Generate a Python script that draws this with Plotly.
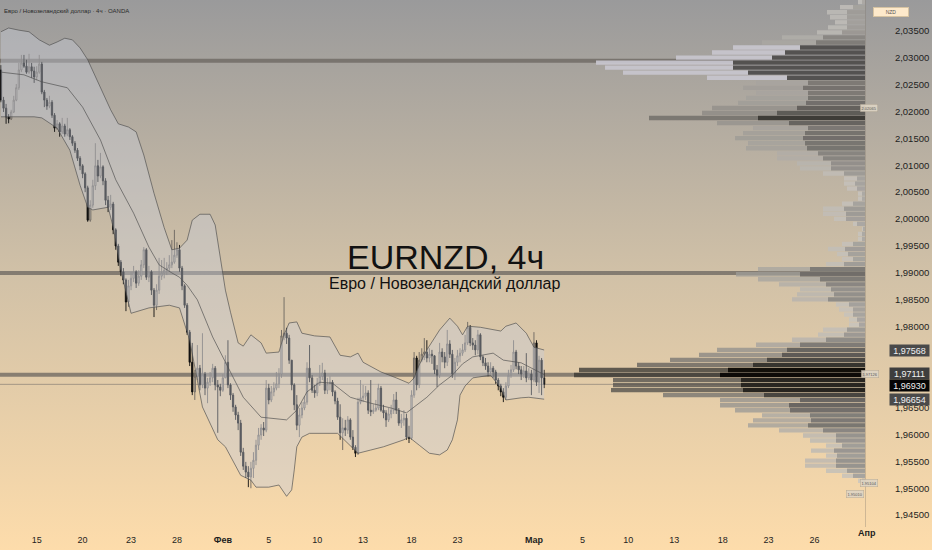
"""EURNZD 4h chart: candles, Bollinger bands and a visible-range volume profile."""

import base64

import plotly.graph_objects as go

# ---- price data (4h bars, index = bar number) ----
first_open = 2.0277
closes = [
    2.0221, 2.0206, 2.0190, 2.0186, 2.0199, 2.0221, 2.0244, 2.0277, 2.0290, 2.0284,
    2.0273, 2.0283, 2.0275, 2.0264, 2.0273, 2.0288, 2.0236, 2.0221, 2.0210, 2.0217,
    2.0193, 2.0169, 2.0177, 2.0162, 2.0173, 2.0158, 2.0166, 2.0153, 2.0141, 2.0128,
    2.0113, 2.0099, 2.0084, 2.0058, 1.9998, 2.0026, 2.0062, 2.0099, 2.0080, 2.0097,
    2.0071, 2.0035, 2.0022, 2.0028, 1.9980, 1.9950, 1.9920, 1.9902, 1.9887, 1.9846,
    1.9876, 1.9890, 1.9902, 1.9881, 1.9894, 1.9915, 1.9943, 1.9892, 1.9902, 1.9868,
    1.9840, 1.9868, 1.9894, 1.9900, 1.9905, 1.9909, 1.9915, 1.9920, 1.9933, 1.9943,
    1.9909, 1.9876, 1.9840, 1.9790, 1.9734, 1.9679, 1.9708, 1.9723, 1.9692, 1.9712,
    1.9686, 1.9697, 1.9705, 1.9723, 1.9692, 1.9688, 1.9682, 1.9705, 1.9734, 1.9692,
    1.9673, 1.9651, 1.9636, 1.9621, 1.9567, 1.9541, 1.9530, 1.9521, 1.9537, 1.9552,
    1.9580, 1.9599, 1.9612, 1.9608, 1.9686, 1.9664, 1.9679, 1.9686, 1.9694, 1.9712,
    1.9783, 1.9788, 1.9779, 1.9738, 1.9692, 1.9655, 1.9617, 1.9636, 1.9649, 1.9660,
    1.9723, 1.9705, 1.9682, 1.9677, 1.9695, 1.9708, 1.9714, 1.9682, 1.9694, 1.9697,
    1.9679, 1.9662, 1.9632, 1.9603, 1.9612, 1.9608, 1.9627, 1.9595, 1.9576, 1.9565,
    1.9660, 1.9668, 1.9671, 1.9677, 1.9645, 1.9642, 1.9645, 1.9649, 1.9686, 1.9645,
    1.9640, 1.9627, 1.9638, 1.9645, 1.9664, 1.9645, 1.9621, 1.9627, 1.9630, 1.9595,
    1.9593, 1.9673, 1.9742, 1.9692, 1.9738, 1.9749, 1.9753, 1.9742, 1.9749, 1.9746,
    1.9720, 1.9710, 1.9753, 1.9744, 1.9734, 1.9768, 1.9749, 1.9712, 1.9734, 1.9746,
    1.9751, 1.9757, 1.9770, 1.9799, 1.9770, 1.9766, 1.9757, 1.9785, 1.9744, 1.9733,
    1.9727, 1.9716, 1.9723, 1.9716, 1.9701, 1.9690, 1.9679, 1.9669, 1.9690, 1.9710,
    1.9720, 1.9753, 1.9727, 1.9720, 1.9712, 1.9718, 1.9705, 1.9712, 1.9701, 1.9770,
    1.9697, 1.9738, 1.9705, 1.96930,
]
highs = [
    2.0286, 2.0227, 2.0214, 2.0195, 2.0203, 2.0229, 2.0251, 2.0290, 2.0305, 2.0305,
    2.0296, 2.0307, 2.0290, 2.0283, 2.0284, 2.0305, 2.0292, 2.0240, 2.0225, 2.0229,
    2.0221, 2.0197, 2.0184, 2.0180, 2.0188, 2.0177, 2.0188, 2.0169, 2.0156, 2.0145,
    2.0132, 2.0117, 2.0102, 2.0087, 2.0062, 2.0035, 2.0073, 2.0141, 2.0110, 2.0123,
    2.0100, 2.0076, 2.0043, 2.0045, 2.0032, 1.9983, 1.9954, 1.9924, 1.9909, 1.9890,
    1.9887, 1.9902, 1.9913, 1.9905, 1.9905, 1.9924, 1.9948, 1.9946, 1.9913, 1.9905,
    1.9872, 1.9879, 1.9928, 1.9924, 1.9928, 1.9920, 1.9933, 1.9961, 1.9980, 1.9957,
    1.9952, 1.9913, 1.9879, 1.9844, 1.9794, 1.9770, 1.9720, 1.9766, 1.9729, 1.9788,
    1.9716, 1.9705, 1.9716, 1.9731, 1.9727, 1.9701, 1.9694, 1.9712, 1.9747, 1.9775,
    1.9695, 1.9677, 1.9655, 1.9642, 1.9627, 1.9575, 1.9549, 1.9541, 1.9549, 1.9567,
    1.9590, 1.9612, 1.9619, 1.9623, 1.9701, 1.9694, 1.9690, 1.9697, 1.9716, 1.9723,
    1.9794, 1.9855, 1.9798, 1.9785, 1.9738, 1.9695, 1.9673, 1.9649, 1.9660, 1.9671,
    1.9734, 1.9766, 1.9710, 1.9692, 1.9705, 1.9729, 1.9733, 1.9720, 1.9705, 1.9708,
    1.9701, 1.9682, 1.9668, 1.9656, 1.9630, 1.9627, 1.9634, 1.9630, 1.9608, 1.9580,
    1.9668, 1.9701, 1.9692, 1.9690, 1.9682, 1.9701, 1.9656, 1.9664, 1.9694, 1.9690,
    1.9655, 1.9645, 1.9649, 1.9655, 1.9675, 1.9679, 1.9649, 1.9638, 1.9645, 1.9638,
    1.9616, 1.9682, 1.9753, 1.9746, 1.9753, 1.9760, 1.9779, 1.9775, 1.9760, 1.9757,
    1.9747, 1.9729, 1.9770, 1.9760, 1.9753, 1.9794, 1.9775, 1.9757, 1.9742, 1.9757,
    1.9760, 1.9768, 1.9785, 1.9809, 1.9803, 1.9779, 1.9775, 1.9794, 1.9788, 1.9747,
    1.9742, 1.9734, 1.9734, 1.9727, 1.9720, 1.9705, 1.9694, 1.9686, 1.9697, 1.9720,
    1.9729, 1.9775, 1.9757, 1.9734, 1.9727, 1.9727, 1.9751, 1.9723, 1.9720, 1.9790,
    1.9775, 1.9746, 1.9742, 1.9720,
]
lows = [
    2.0217, 2.0199, 2.0177, 2.0178, 2.0184, 2.0197, 2.0219, 2.0240, 2.0273, 2.0281,
    2.0270, 2.0270, 2.0262, 2.0253, 2.0258, 2.0270, 2.0232, 2.0208, 2.0203, 2.0206,
    2.0188, 2.0162, 2.0166, 2.0153, 2.0158, 2.0153, 2.0154, 2.0147, 2.0136, 2.0123,
    2.0108, 2.0091, 2.0076, 2.0050, 1.9995, 1.9995, 2.0021, 2.0054, 2.0069, 2.0076,
    2.0063, 2.0026, 2.0013, 2.0017, 1.9972, 1.9943, 1.9913, 1.9894, 1.9879, 1.9829,
    1.9837, 1.9868, 1.9883, 1.9872, 1.9876, 1.9887, 1.9909, 1.9887, 1.9883, 1.9859,
    1.9818, 1.9831, 1.9861, 1.9887, 1.9890, 1.9896, 1.9902, 1.9909, 1.9917, 1.9928,
    1.9902, 1.9868, 1.9835, 1.9785, 1.9727, 1.9673, 1.9664, 1.9701, 1.9682, 1.9686,
    1.9673, 1.9658, 1.9690, 1.9697, 1.9682, 1.9603, 1.9671, 1.9679, 1.9705, 1.9686,
    1.9664, 1.9642, 1.9627, 1.9608, 1.9560, 1.9534, 1.9519, 1.9502, 1.9500, 1.9519,
    1.9543, 1.9571, 1.9590, 1.9597, 1.9604, 1.9656, 1.9660, 1.9671, 1.9682, 1.9686,
    1.9705, 1.9775, 1.9768, 1.9731, 1.9682, 1.9645, 1.9608, 1.9595, 1.9630, 1.9645,
    1.9655, 1.9697, 1.9677, 1.9668, 1.9671, 1.9690, 1.9701, 1.9675, 1.9675, 1.9682,
    1.9671, 1.9656, 1.9627, 1.9590, 1.9571, 1.9597, 1.9601, 1.9590, 1.9571, 1.9558,
    1.9562, 1.9656, 1.9660, 1.9664, 1.9638, 1.9634, 1.9638, 1.9642, 1.9645, 1.9642,
    1.9630, 1.9614, 1.9623, 1.9630, 1.9638, 1.9638, 1.9616, 1.9612, 1.9616, 1.9590,
    1.9584, 1.9590, 1.9668, 1.9682, 1.9686, 1.9734, 1.9738, 1.9734, 1.9734, 1.9731,
    1.9712, 1.9688, 1.9705, 1.9734, 1.9723, 1.9727, 1.9742, 1.9705, 1.9701, 1.9727,
    1.9734, 1.9746, 1.9753, 1.9766, 1.9764, 1.9757, 1.9747, 1.9749, 1.9738, 1.9727,
    1.9720, 1.9708, 1.9712, 1.9705, 1.9694, 1.9682, 1.9671, 1.9660, 1.9664, 1.9686,
    1.9705, 1.9716, 1.9721, 1.9712, 1.9701, 1.9705, 1.9697, 1.9701, 1.9673, 1.9697,
    1.9690, 1.9677, 1.9673, 1.9686,
]

# ---- Bollinger bands at sample bars ----
bb_upper_idx = [0, 3, 7, 11, 15, 19, 22, 25, 28, 31, 34, 39, 43, 46, 50, 53, 56, 60, 64, 67,
                70, 73, 75, 78, 82, 84, 86, 88, 90, 93, 95, 98, 102, 104, 109, 111, 113, 116,
                118, 123, 129, 133, 137, 140, 142, 149, 155, 160, 162, 164, 167, 172, 176,
                179, 181, 183, 188, 196, 198, 202, 206, 209, 213]
bb_upper = [2.0348, 2.0355, 2.0351, 2.0348, 2.0333, 2.0323, 2.0329, 2.0336, 2.0333, 2.0318,
            2.0296, 2.0244, 2.0203, 2.0177, 2.0171, 2.0162, 2.0119, 2.0048, 1.9984, 1.9943,
            1.9946, 1.9961, 1.9998, 2.0009, 2.0009, 1.9989, 1.9924, 1.9868, 1.9827, 1.9770,
            1.9764, 1.9785, 1.9770, 1.9751, 1.9753, 1.9785, 1.9807, 1.9809, 1.9788, 1.9783,
            1.9781, 1.9747, 1.9744, 1.9751, 1.9734, 1.9716, 1.9705, 1.9695, 1.9705, 1.9729,
            1.9757, 1.9794, 1.9816, 1.9801, 1.9785, 1.9801, 1.9799, 1.9792, 1.9801, 1.9807,
            1.9788, 1.9762, 1.97568]
bb_mid_idx = [0, 9, 16, 26, 32, 39, 45, 52, 58, 62, 67, 70, 73, 77, 83, 90, 95, 102, 112,
              116, 120, 125, 130, 137, 145, 153, 159, 167, 172, 177, 181, 185, 193, 197,
              204, 213]
bb_mid = [2.0273, 2.0268, 2.0255, 2.0244, 2.0208, 2.0147, 2.0073, 2.0011, 1.9948, 1.9915,
          1.9900, 1.9892, 1.9877, 1.9850, 1.9781, 1.9714, 1.9669, 1.9632, 1.9627, 1.9645,
          1.9679, 1.9697, 1.9695, 1.9669, 1.9658, 1.9649, 1.9640, 1.9669, 1.9692, 1.9710,
          1.9731, 1.9744, 1.9751, 1.9738, 1.9733, 1.97111]
bb_low_idx = [0, 13, 16, 22, 27, 31, 34, 36, 42, 44, 47, 51, 58, 66, 70, 74, 79, 85, 88, 94,
              98, 100, 105, 109, 112, 114, 115, 116, 118, 121, 132, 137, 140, 145, 150, 158,
              160, 164, 168, 172, 175, 177, 179, 180, 182, 185, 192, 196, 198, 204, 207, 213]
bb_lower = [2.0190, 2.0190, 2.0188, 2.0169, 2.0128, 2.0063, 2.0022, 2.0017, 2.0022, 1.9985,
            1.9905, 1.9825, 1.9835, 1.9840, 1.9835, 1.9775, 1.9651, 1.9590, 1.9577, 1.9524,
            1.9515, 1.9502, 1.9502, 1.9506, 1.9485, 1.9497, 1.9534, 1.9577, 1.9595, 1.9602,
            1.9602, 1.9580, 1.9565, 1.9571, 1.9577, 1.9590, 1.9595, 1.9580, 1.9565, 1.9562,
            1.9571, 1.9590, 1.9627, 1.9673, 1.9690, 1.9705, 1.9710, 1.9686, 1.9664, 1.9668,
            1.9669, 1.96654]

# ---- volume profile (relative volume per price row, top row first) ----
vp_top = 2.0403
vp_step = 0.000936
vp_total = [
    7, 25, 38, 35, 30, 37, 48, 83, 103, 132,
    153, 189, 269, 260, 242, 158, 109, 122, 109, 119,
    127, 153, 163, 216, 148, 112, 122, 130, 117, 119,
    88, 88, 68, 65, 42, 21, 21, 18, 7, 7,
    23, 42, 42, 31, 12, 3, 7, 7, 23, 37,
    28, 23, 39, 107, 129, 107, 86, 65, 68, 73,
    29, 26, 21, 16, 16, 42, 47, 73, 109, 148,
    166, 195, 228, 286, 291, 252, 252, 254, 202, 145,
    145, 130, 103, 112, 117, 86, 62, 55, 39, 54,
    39, 60, 60, 39, 23, 7,
]
vp_inner = [
    3, 12, 18, 18, 18, 18, 23, 42, 49, 65,
    80, 93, 132, 132, 117, 78, 57, 62, 57, 57,
    59, 68, 88, 107, 76, 57, 60, 62, 60, 58,
    47, 42, 34, 34, 21, 8, 10, 8, 3, 3,
    12, 21, 19, 19, 8, 2, 3, 3, 12, 20,
    17, 12, 21, 55, 65, 45, 39, 34, 31, 37,
    16, 12, 12, 8, 6, 18, 21, 39, 65, 78,
    83, 98, 112, 137, 145, 124, 124, 122, 101, 65,
    76, 75, 55, 54, 57, 42, 29, 29, 23, 31,
    28, 29, 29, 18, 12, 3,
]

level_prices = [2.0294, 1.9900, 1.9711]
# 1,97500 and 1,97000 sit under the price boxes on the original, so they are left out
y_ticks = [1.945, 1.950, 1.955, 1.960, 1.965, 1.980, 1.985, 1.990,
           1.995, 2.000, 2.005, 2.010, 2.015, 2.020, 2.025, 2.030, 2.035]
x_tick_bars = [14, 32, 51, 69, 87, 105, 124, 142, 161, 179, 209, 228, 246, 264, 283, 301, 319]
x_tick_text = ["15", "20", "23", "28", "<b>Фев</b>", "5", "10", "13", "18", "23",
               "<b>Мар</b>", "5", "10", "13", "18", "23", "26"]

FONT = "Liberation Sans, Arial, sans-serif"
W, H = 932, 550
PLOT_W, PLOT_H = 865, 527

opens = [first_open] + closes[:-1]
bars = list(range(len(closes)))
vp_prices = [vp_top - k * vp_step for k in range(len(vp_total))]

# background gradient as an inline svg image
svg = (
    "<svg xmlns='http://www.w3.org/2000/svg' width='10' height='100' "
    "viewBox='0 0 10 100' preserveAspectRatio='none'>"
    "<defs><linearGradient id='g' x1='0' y1='0' x2='0' y2='1'>"
    "<stop offset='0' stop-color='#9a9a9b'/>"
    "<stop offset='0.5' stop-color='#d1c1a7'/>"
    "<stop offset='1' stop-color='#fddcab'/>"
    "</linearGradient></defs>"
    "<rect width='10' height='100' fill='url(#g)'/></svg>"
)
bg_src = "data:image/svg+xml;base64," + base64.b64encode(svg.encode()).decode()

fig = go.Figure()

# band fill
fig.add_trace(go.Scatter(
    x=bb_upper_idx + bb_low_idx[::-1], y=bb_upper + bb_lower[::-1],
    mode="lines", fill="toself", fillcolor="rgba(200,205,218,0.4)",
    line=dict(width=0), hoverinfo="skip",
))
for bx, by in [(bb_upper_idx, bb_upper), (bb_mid_idx, bb_mid), (bb_low_idx, bb_lower)]:
    fig.add_trace(go.Scatter(
        x=bx, y=by, mode="lines",
        line=dict(color="rgba(80,80,80,0.85)", width=0.8), hoverinfo="skip",
    ))

fig.add_trace(go.Candlestick(
    x=bars, open=opens, high=highs, low=lows, close=closes,
    increasing=dict(line=dict(color="#6b6560", width=0.9), fillcolor="rgba(210,205,200,0.55)"),
    decreasing=dict(line=dict(color="#0d0d0d", width=0.9), fillcolor="#0d0d0d"),
    whiskerwidth=0, hoverinfo="skip",
))

# volume profile colours: darker for heavier rows, pale outer part for the top cluster
vmax = max(vp_total)
outer_cols, inner_cols = [], []
for p, tot in zip(vp_prices, vp_total):
    t = tot / vmax
    if p > 2.0255 and t > 0.4:
        outer_cols.append("rgba(200,198,206,0.92)")
        inner_cols.append("rgba(78,76,74,0.95)")
        continue
    g_out = int(200 - 140 * t ** 1.5)
    g_in = int(max(170 - 165 * t ** 1.2, 5))
    outer_cols.append(f"rgba({g_out},{g_out - 3},{g_out - 8},0.8)")
    inner_cols.append(f"rgba({g_in},{max(g_in - 3, 0)},{max(g_in - 7, 0)},0.88)")

fig.add_trace(go.Bar(
    y=vp_prices, x=vp_total, orientation="h", xaxis="x2", yaxis="y",
    width=vp_step * 0.86, marker=dict(color=outer_cols, line=dict(width=0)),
    hoverinfo="skip",
))
fig.add_trace(go.Bar(
    y=vp_prices, x=vp_inner, orientation="h", xaxis="x2", yaxis="y",
    width=vp_step * 0.86, marker=dict(color=inner_cols, line=dict(width=0)),
    hoverinfo="skip",
))

shapes = []
for lv in level_prices:
    shapes.append(dict(type="line", xref="paper", x0=0, x1=1, yref="y", y0=lv, y1=lv,
                       line=dict(color="rgba(105,100,95,0.75)", width=4), layer="below"))
shapes.append(dict(type="line", xref="paper", x0=0, x1=1, yref="y",
                   y0=closes[-1], y1=closes[-1],
                   line=dict(color="rgba(120,115,110,0.6)", width=1), layer="below"))


def price_text(v):
    return f"{v:.5f}".replace(".", ",")


annotations = [
    dict(text="EURNZD, 4ч", xref="paper", yref="paper", x=445 / PLOT_W, y=1 - 257 / PLOT_H,
         showarrow=False, font=dict(family=FONT, size=34, color="#121212")),
    dict(text="Евро / Новозеландский доллар", xref="paper", yref="paper",
         x=445 / PLOT_W, y=1 - 283 / PLOT_H, showarrow=False,
         font=dict(family=FONT, size=16, color="#121212")),
    dict(text="Евро / Новозеландский доллар · 4ч · OANDA", xref="paper", yref="paper",
         x=0.002, y=1 - 6 / PLOT_H, xanchor="left", showarrow=False,
         font=dict(family=FONT, size=6, color="#2a2a2a")),
    dict(text="NZD", xref="paper", yref="paper", x=1, xshift=44, y=1 - 7 / PLOT_H,
         showarrow=False, width=32, bgcolor="#fde9cb", bordercolor="#d6c3a2", borderwidth=1,
         font=dict(family=FONT, size=5, color="#555555")),
    dict(text="<b>Апр</b>", xref="paper", yref="paper", x=878 / PLOT_W, y=-13 / PLOT_H,
         showarrow=False, font=dict(family=FONT, size=9, color="#1e1e1e")),
]
for val, bg, ys in [(bb_upper[-1], "#4a4a4a", 0), (bb_mid[-1], "#3e3e3e", 1),
                    (closes[-1], "#050505", -1), (bb_lower[-1], "#4a4a4a", 0)]:
    annotations.append(dict(
        text=price_text(val), xref="paper", x=1, xanchor="left", xshift=24,
        yref="y", y=val, yshift=ys, showarrow=False, width=38, height=10,
        bgcolor=bg, borderpad=0.5,
        font=dict(family=FONT, size=9, color="#f0f0f0"),
    ))
for txt, yv, xs, ys in [("2.02065", 2.02065, 13, 0), ("1.97126", 1.97126, 14, 0),
                        ("1.95104", 1.95104, 13, 0), ("1.95010", 1.95010, -1, -6)]:
    annotations.append(dict(
        text=txt, xref="paper", x=1, xshift=xs, yref="y", y=yv, yshift=ys,
        showarrow=False, bgcolor="rgba(222,212,195,0.9)", bordercolor="rgba(150,140,125,0.6)",
        borderwidth=0.5, borderpad=1, font=dict(family=FONT, size=4, color="#555555"),
    ))

fig.update_layout(
    width=W, height=H,
    margin=dict(l=0, r=W - PLOT_W, t=0, b=H - PLOT_H),
    paper_bgcolor="#f3d7a9", plot_bgcolor="rgba(0,0,0,0)",
    separators=", ",
    showlegend=False, hovermode=False, barmode="overlay",
    images=[dict(source=bg_src, xref="paper", yref="paper", x=0, y=1,
                 sizex=W / PLOT_W, sizey=H / PLOT_H, sizing="stretch",
                 xanchor="left", yanchor="top", layer="below")],
    xaxis=dict(range=[-0.39, 338.82], tickvals=x_tick_bars, ticktext=x_tick_text,
               ticks="outside", ticklen=4, tickcolor="rgba(0,0,0,0)",
               showgrid=False, zeroline=False, showline=False,
               rangeslider=dict(visible=False),
               tickfont=dict(family=FONT, size=9, color="#1e1e1e")),
    xaxis2=dict(overlaying="x", anchor="y", range=[vmax / 0.3364, 0], visible=False),
    yaxis=dict(side="right", range=[1.9428, 2.0407], tickvals=y_ticks, tickformat=".5f",
               ticks="outside", ticklen=27, tickcolor="rgba(0,0,0,0)",
               showgrid=False, zeroline=False,
               showline=True, linecolor="rgba(130,120,110,0.35)", linewidth=1,
               tickfont=dict(family=FONT, size=9.5, color="#1e1e1e")),
    shapes=shapes,
    annotations=annotations,
)

# the page is photographed edge to edge, so drop the default body margin
fig.write_html(
    "out.html",
    config={"displayModeBar": False},
    post_script="document.body.style.margin='0';",
)
